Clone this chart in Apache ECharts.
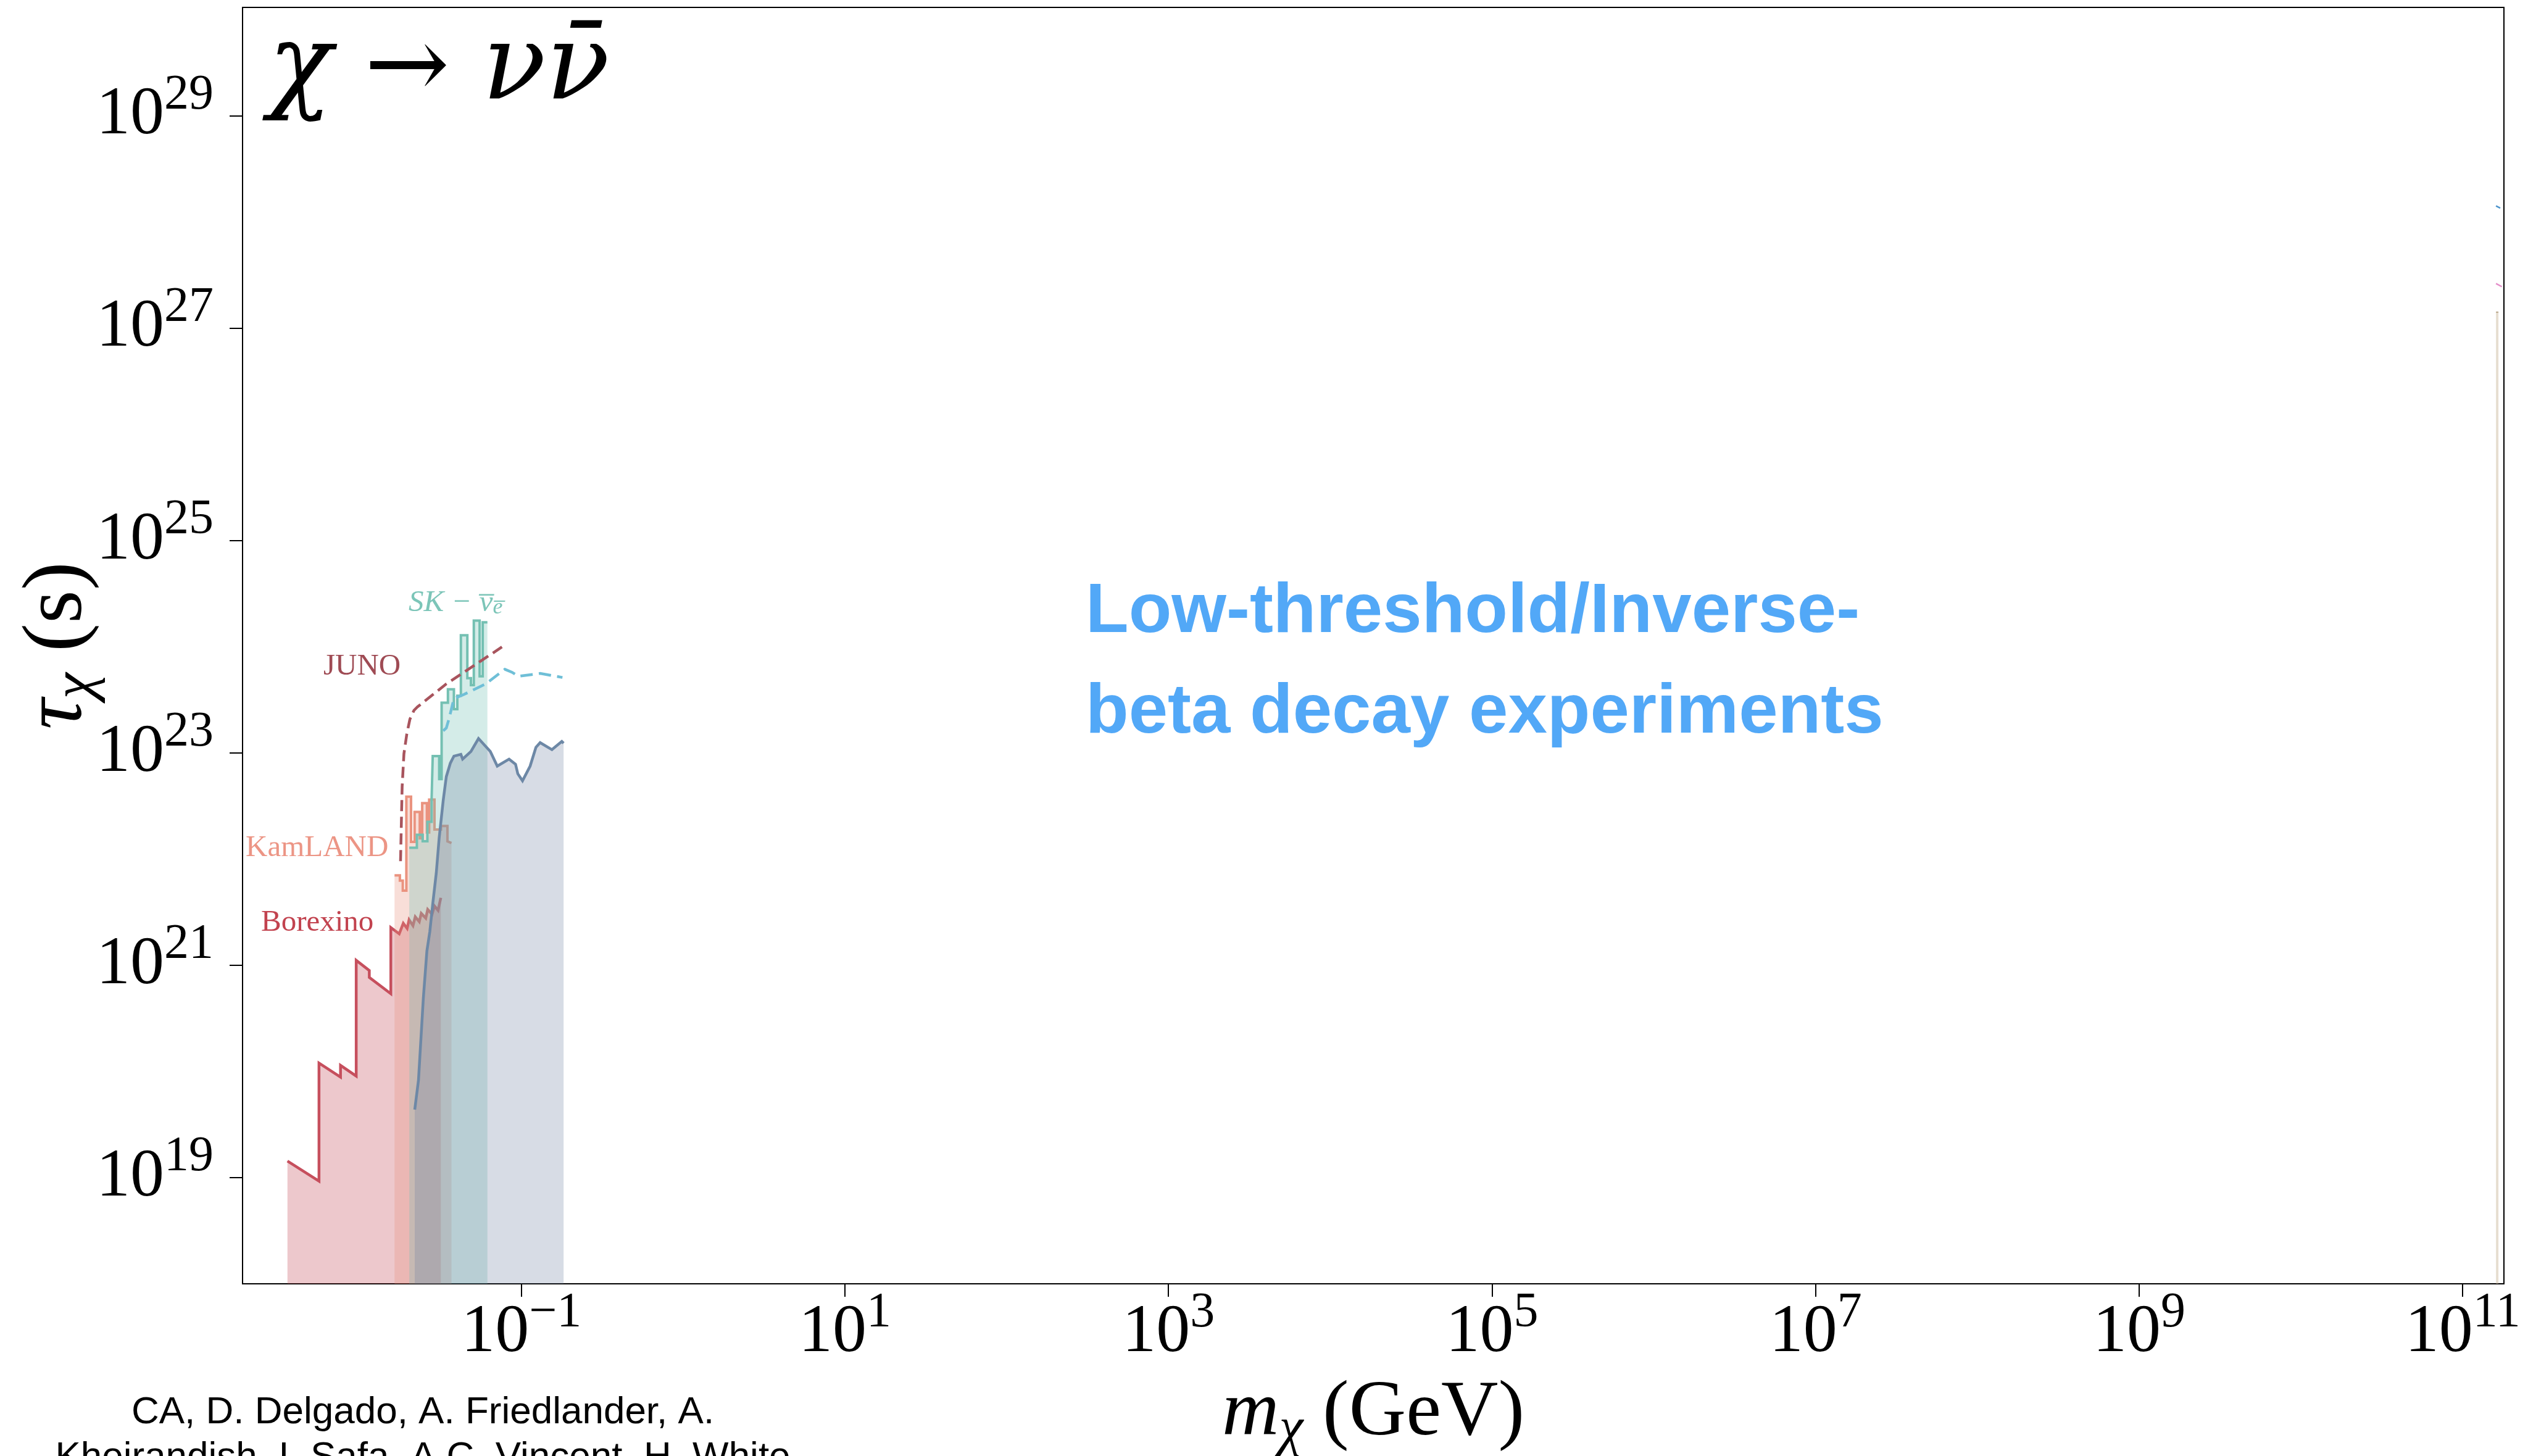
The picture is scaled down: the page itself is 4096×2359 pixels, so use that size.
<!DOCTYPE html>
<html>
<head>
<meta charset="utf-8">
<title>chi -> nu nubar lifetime limits</title>
<script src="https://cdn.jsdelivr.net/npm/echarts@6/dist/echarts.min.js"></script>
<style>
  html, body { margin: 0; padding: 0; background: #fff; }
  #chart { width: 4096px; height: 2359px; }
</style>
</head>
<body>
<div id="chart"></div>
<script>
// values are log10(m / GeV) and log10(tau / s)
const xTicks = [-1, 1, 3, 5, 7, 9, 11];
const yTicks = [19, 21, 23, 25, 27, 29];

const borexinoLogM = [-2.446, -2.251, -2.251, -2.118, -2.118, -2.021, -2.021, -1.940, -1.940, -1.807, -1.807,
  -1.755, -1.730, -1.706, -1.694, -1.670, -1.656, -1.631, -1.619, -1.591, -1.579, -1.552, -1.537, -1.515, -1.498];
const borexinoLogTau = [19.156, 18.967, 20.079, 19.947, 20.057, 19.956, 21.046, 20.950, 20.885, 20.732, 21.355,
  21.296, 21.395, 21.346, 21.428, 21.373, 21.456, 21.410, 21.488, 21.443, 21.525, 21.480, 21.558, 21.517, 21.635];

const kamlandLogM = [-1.784, -1.751, -1.751, -1.733, -1.733, -1.711, -1.711, -1.682, -1.682, -1.660, -1.660, -1.628, -1.628,
  -1.613, -1.613, -1.584, -1.584, -1.570, -1.570, -1.537, -1.537, -1.497, -1.497, -1.457, -1.457, -1.432];
const kamlandLogTau = [21.847, 21.847, 21.797, 21.797, 21.703, 21.703, 22.588, 22.588, 22.162, 22.162, 22.444, 22.444, 22.195,
  22.195, 22.527, 22.527, 22.250, 22.250, 22.560, 22.560, 22.278, 22.278, 22.311, 22.311, 22.167, 22.151];

const skLogM = [-1.693, -1.646, -1.646, -1.610, -1.610, -1.581, -1.581, -1.555, -1.555, -1.548, -1.548, -1.508, -1.508,
  -1.493, -1.493, -1.454, -1.454, -1.417, -1.417, -1.396, -1.396, -1.374, -1.374, -1.334, -1.334, -1.312, -1.312,
  -1.294, -1.294, -1.258, -1.258, -1.239, -1.239, -1.210];
const skLogTau = [22.107, 22.107, 22.228, 22.228, 22.167, 22.167, 22.350, 22.350, 22.560, 22.560, 22.969, 22.969, 22.753,
  22.753, 23.472, 23.472, 23.599, 23.599, 23.411, 23.411, 23.538, 23.538, 24.108, 24.108, 23.704, 23.704, 23.638,
  23.638, 24.246, 24.246, 23.721, 23.721, 24.229, 24.229];

const slateLogM = [-1.659, -1.636, -1.606, -1.584, -1.566, -1.548, -1.526, -1.508, -1.483, -1.464, -1.439, -1.417, -1.374,
  -1.363, -1.312, -1.265, -1.192, -1.149, -1.076, -1.036, -1.022, -0.993, -0.946, -0.910, -0.884, -0.811, -0.750, -0.739];
const slateLogTau = [19.641, 19.918, 20.691, 21.134, 21.316, 21.576, 21.869, 22.201, 22.554, 22.776, 22.903, 22.969, 22.986,
  22.941, 23.013, 23.135, 23.013, 22.875, 22.941, 22.892, 22.803, 22.737, 22.875, 23.052, 23.096, 23.030, 23.107, 23.091];

const junoLogM = [-1.747, -1.737, -1.726, -1.708, -1.689, -1.664, -1.642, -1.464, -1.120];
const junoLogTau = [21.980, 22.682, 22.991, 23.179, 23.317, 23.400, 23.433, 23.649, 23.997];

const skFutureLogM = [-1.483, -1.464, -1.446, -1.417, -1.356, -1.221, -1.102, -1.058, -1.018, -0.884, -0.746];
const skFutureLogTau = [23.207, 23.234, 23.328, 23.511, 23.549, 23.649, 23.787, 23.759, 23.721, 23.748, 23.710];

// bits of other curves peeking in at the right edge
const blueEdgeLogM = [11.206, 11.232];
const blueEdgeLogTau = [28.15, 28.13];
const pinkEdgeLogM = [11.206, 11.242];
const pinkEdgeLogTau = [27.42, 27.39];
const beigeEdgeLogM = [11.206, 11.221];
const beigeEdgeLogTau = [27.15, 27.15];

const serif = '"Liberation Serif", "DejaVu Serif", serif';
const sans = '"Liberation Sans", Arial, sans-serif';

function pairs(xs, ys) {
  return xs.map((x, i) => [x, ys[i]]);
}

function curve(name, xs, ys, color, width, fill, dash, z) {
  const s = {
    name: name,
    type: 'line',
    data: pairs(xs, ys),
    symbol: 'none',
    showSymbol: false,
    silent: true,
    clip: true,
    z: z,
    emphasis: { disabled: true },
    lineStyle: { color: color, width: width, type: dash || 'solid', cap: 'butt', join: 'miter' }
  };
  if (fill) {
    s.areaStyle = { color: fill, opacity: 1, origin: 'start' };
  }
  return s;
}

const expRich = {
  b: { fontFamily: serif, fontSize: 110, color: '#000' },
  e: { fontFamily: serif, fontSize: 80, color: '#000', padding: [0, 0, 65, 0] }
};
const expLabel = (v) => '{b|10}{e|' + String(v).replace('-', '\u2212') + '}';

const nameRich = (first, size) => ({
  [first]: { fontFamily: serif, fontStyle: 'italic', fontSize: size, color: '#000' },
  s: { fontFamily: serif, fontStyle: 'italic', fontSize: Math.round(size * 0.69), color: '#000', padding: [Math.round(size * 0.44), 0, 0, 0] },
  r: { fontFamily: serif, fontSize: size, color: '#000' }
});

const chart = echarts.init(document.getElementById('chart'));

const option = {
  animation: false,
  backgroundColor: '#ffffff',
  grid: {
    left: 393, right: 39, top: 12, bottom: 279,
    show: true, borderColor: '#000', borderWidth: 2,
    containLabel: false, outerBoundsMode: 'none'
  },
  xAxis: {
    type: 'value',
    min: -2.7235,
    max: 11.255,
    axisLine: { show: true, onZero: false, lineStyle: { color: '#000', width: 2 } },
    axisTick: { show: true, customValues: xTicks, length: 21, lineStyle: { color: '#000', width: 2 } },
    axisLabel: { customValues: xTicks, formatter: expLabel, rich: expRich, margin: 8 },
    splitLine: { show: false },
    name: '{m|m}{s|\u03c7}{r| (GeV)}',
    nameLocation: 'middle',
    nameGap: 138,
    nameMoveOverlap: false,
    nameTextStyle: { rich: nameRich('m', 128) }
  },
  yAxis: {
    type: 'value',
    min: 18,
    max: 30.02,
    axisLine: { show: true, onZero: false, lineStyle: { color: '#000', width: 2 } },
    axisTick: { show: true, customValues: yTicks, length: 21, lineStyle: { color: '#000', width: 2 } },
    axisLabel: { customValues: yTicks, formatter: expLabel, rich: expRich, margin: 47 },
    splitLine: { show: false },
    name: '{t|\u03c4}{s|\u03c7}{r| (s)}',
    nameLocation: 'middle',
    nameRotate: 90,
    nameGap: 220,
    nameMoveOverlap: false,
    nameTextStyle: { rich: nameRich('t', 138) }
  },
  series: [
    curve('Borexino', borexinoLogM, borexinoLogTau, '#c64f5d', 4.5, 'rgba(196,78,90,0.31)', null, 2),
    curve('KamLAND', kamlandLogM, kamlandLogTau, '#ea937f', 4, 'rgba(232,145,127,0.3)', null, 3),
    curve('SK', skLogM, skLogTau, '#74c0b2', 4, 'rgba(114,191,179,0.3)', null, 4),
    curve('IBD', slateLogM, slateLogTau, '#6d88a6', 4.5, 'rgba(110,130,160,0.28)', null, 5),
    curve('JUNO', junoLogM, junoLogTau, '#a8545d', 4.5, null, [18, 9], 6),
    curve('SK future', skFutureLogM, skFutureLogTau, '#6fbfd7', 4.5, null, [20, 10], 6),
    curve('edge blue', blueEdgeLogM, blueEdgeLogTau, '#4b93cc', 2.5, null, null, 6),
    curve('edge pink', pinkEdgeLogM, pinkEdgeLogTau, '#e58fca', 2.5, null, null, 6),
    curve('edge beige', beigeEdgeLogM, beigeEdgeLogTau, '#b9a78a', 2, 'rgba(200,182,150,0.45)', null, 6)
  ],
  graphic: {
    elements: [
      {
        type: 'text', x: 435, y: 116, z: 10,
        style: {
          text: '{g|\u03c7}{a| \u2192 }{g|\u03bd\u03bd\u0304}',
          textAlign: 'left', textVerticalAlign: 'middle',
          rich: {
            g: { fontFamily: '"DejaVu Serif", serif', fontStyle: 'italic', fontSize: 170, fill: '#000' },
            a: { fontFamily: '"DejaVu Serif", serif', fontSize: 165, fill: '#000' }
          }
        }
      },
      {
        type: 'text', x: 1759, y: 911, z: 10,
        style: {
          text: 'Low-threshold/Inverse-\nbeta decay experiments',
          font: 'bold 114px ' + sans, fill: '#52a8f7',
          lineHeight: 163, textAlign: 'left', textVerticalAlign: 'top'
        }
      },
      {
        type: 'text', x: 662, y: 977, z: 10,
        style: {
          text: '{a|SK \u2212 }{b|v\u0305}{c|e\u0305}',
          textAlign: 'left', textVerticalAlign: 'middle',
          rich: {
            a: { fontFamily: serif, fontStyle: 'italic', fontSize: 49, fill: '#7cc5b8' },
            b: { fontFamily: serif, fontStyle: 'italic', fontSize: 49, fill: '#7cc5b8' },
            c: { fontFamily: serif, fontStyle: 'italic', fontSize: 36, fill: '#7cc5b8', padding: [16, 0, 0, 0] }
          }
        }
      },
      {
        type: 'text', x: 524, y: 1080, z: 10,
        style: { text: 'JUNO', font: '49px ' + serif, fill: '#9f4b54', textAlign: 'left', textVerticalAlign: 'middle' }
      },
      {
        type: 'text', x: 398, y: 1374, z: 10,
        style: { text: 'KamLAND', font: '49px ' + serif, fill: '#ec9585', textAlign: 'left', textVerticalAlign: 'middle' }
      },
      {
        type: 'text', x: 423, y: 1495, z: 10,
        style: { text: 'Borexino', font: '49px ' + serif, fill: '#c2434f', textAlign: 'left', textVerticalAlign: 'middle' }
      },
      {
        type: 'text', x: 685, y: 2252, z: 10,
        style: {
          text: 'CA, D. Delgado, A. Friedlander, A.\nKheirandish, I. Safa, A.C. Vincent, H. White',
          font: '62px ' + sans, fill: '#000', lineHeight: 73,
          textAlign: 'center', textVerticalAlign: 'top'
        }
      }
    ]
  }
};

chart.setOption(option);
</script>
</body>
</html>
